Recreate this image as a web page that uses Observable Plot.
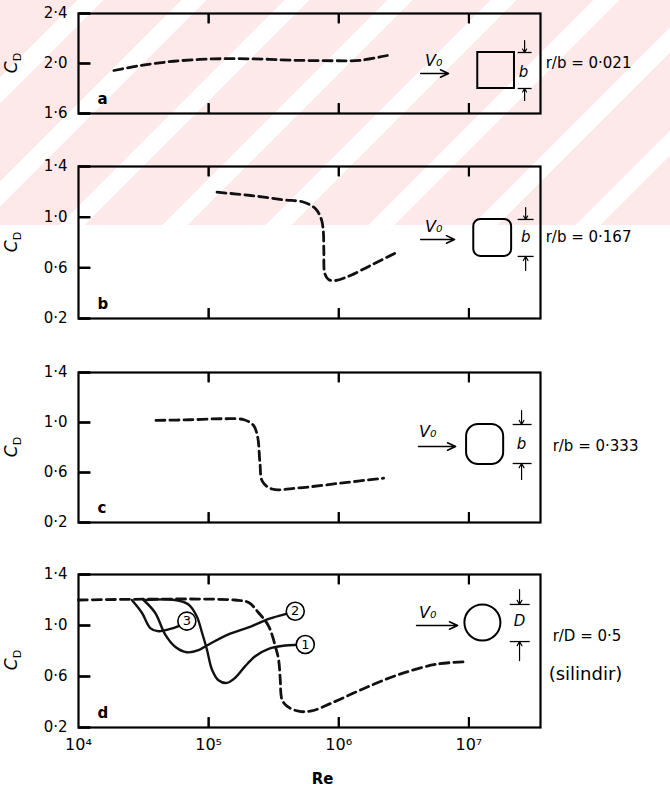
<!DOCTYPE html>
<html><head><meta charset="utf-8">
<script src="https://cdn.jsdelivr.net/npm/d3@7"></script>
<script src="https://cdn.jsdelivr.net/npm/@observablehq/plot@0.6"></script>
<style>
body{margin:0;background:#fff;font-family:"DejaVu Sans",sans-serif}
#wrap{position:relative;width:670px;height:791px;overflow:hidden;background:#fff}
#wm{position:absolute;left:0;top:0;width:670px;height:225px;
 background:repeating-linear-gradient(135deg,#fde8ea 0 55px,#ffffff 55px 73px)}
</style></head>
<body><div id="wrap"><div id="wm"></div></div>
<script>
// ---------- data (Re, C_D) ----------
const xDomain = [1e4, 3.55e7];
const xTicks = [1e5, 1e6, 1e7];
const xLabelTicks = [1e4, 1e5, 1e6, 1e7];
const yTicksA = [1.6, 2.0, 2.4];
const yTicksB = [0.2, 0.6, 1.0, 1.4];

const curveA = [[1.87e4,1.944],[3.0e4,1.984],[5.4e4,2.018],[1.1e5,2.037],[2.23e5,2.037],[4.5e5,2.026],[9.2e5,2.022],[1.47e6,2.026],[2.36e6,2.064]];
const curveB = [[1.16e5,1.197],[2.1e5,1.171],[3.78e5,1.137],[5.4e5,1.118],[6.63e5,1.066],[7.33e5,0.987],[7.6e5,0.895],[7.68e5,0.737],[7.82e5,0.553],[8.39e5,0.506],[9.45e5,0.5],[1.23e6,0.54],[1.86e6,0.632],[2.81e6,0.724]];
const curveC = [[3.94e4,1.017],[7.2e4,1.022],[1.32e5,1.03],[1.87e5,1.022],[2.21e5,0.978],[2.38e5,0.885],[2.48e5,0.674],[2.59e5,0.529],[3.07e5,0.468],[4.84e5,0.476],[1.03e6,0.515],[2.21e6,0.555]];
const curveDdash = [[1e4,1.2],[1.6e5,1.2],[2.03e5,1.18],[2.42e5,1.10],[2.89e5,0.995],[3.25e5,0.84],[3.45e5,0.73],[3.55e5,0.58],[3.66e5,0.42],[4.0e5,0.367],[4.9e5,0.328],[6.2e5,0.33],[8.9e5,0.394],[1.5e6,0.498],[2.9e6,0.616],[5.7e6,0.697],[9.2e6,0.715]];
const curveD1 = [[3.25e4,1.2],[5.5e4,1.2],[7e4,1.165],[8.1e4,1.073],[8.9e4,0.943],[9.7e4,0.812],[1.06e5,0.655],[1.19e5,0.571],[1.38e5,0.55],[1.6e5,0.59],[1.91e5,0.681],[2.28e5,0.759],[2.89e5,0.817],[3.88e5,0.843],[5.53e5,0.851]];
const curveD2 = [[3.16e4,1.2],[3.88e4,1.1],[4.63e4,0.93],[5.53e4,0.833],[6.8e4,0.79],[8.36e4,0.806],[9.7e4,0.843],[1.42e5,0.93],[2.15e5,0.995],[2.89e5,1.052],[3.77e5,1.086],[4.63e5,1.112]];
const curveD3 = [[2.57e4,1.2],[3.07e4,1.1],[3.56e4,0.98],[4.12e4,0.955],[4.92e4,0.969],[5.87e4,0.995],[6.8e4,1.034]];
const curveLabels = [{re:5.53e5, cd:0.851, n:"1"},{re:4.63e5, cd:1.112, n:"2"},{re:6.8e4, cd:1.034, n:"3"}];

const panelLetters = ["a","b","c","d"];
const ratioTexts = ["r/b = 0·021","r/b = 0·167","r/b = 0·333","r/D = 0·5"];
const cylinderText = "(silindir)";

// annotation positions in (Re, C_D)
const flowA = [{x1:4.26e6, x2:6.98e6, y:1.92, tx:5.36e6, ty:2.024}];
const flowB = [{x1:4.26e6, x2:7.76e6, y:0.824, tx:5.36e6, ty:0.926}];
const flowC = [{x1:4.1e6, x2:7.91e6, y:0.808, tx:4.82e6, ty:0.928}];
const flowD = [{x1:3.96e6, x2:8.19e6, y:1.0, tx:4.82e6, ty:1.102}];
const shapeA = [{x1:1.17e7, x2:2.24e7, y1:1.80, y2:2.088}];
const shapeB = [{x1:1.09e7, x2:2.13e7, y1:0.69, y2:0.982}];
const shapeC = [{x1:9.6e6, x2:1.85e7, y1:0.664, y2:0.984}];
const shapeD = [{x:1.27e7, y:1.024}];
const dimA = {x:2.68e7, bx1:2.37e7, bx2:3.03e7, top:2.088, topFrom:2.184, bot:1.80, botFrom:1.704, lx:2.63e7, ly:1.928, t:"b"};
const dimB = {x:2.73e7, bx1:2.37e7, bx2:3.14e7, top:0.982, topFrom:1.076, bot:0.69, botFrom:0.579, lx:2.73e7, ly:0.84, t:"b"};
const dimC = {x:2.54e7, bx1:2.17e7, bx2:3.03e7, top:0.984, topFrom:1.096, bot:0.672, botFrom:0.544, lx:2.54e7, ly:0.824, t:"b"};
const dimD = {x:2.45e7, bx1:2.06e7, bx2:2.93e7, top:1.165, topFrom:1.282, bot:0.874, botFrom:0.725, lx:2.45e7, ly:1.035, t:"D"};
const ratioPos = [{x:3.89e7, y:2.0},{x:3.89e7, y:0.84},{x:4.4e7, y:0.808},{x:4.4e7, y:0.914}];
const cylPos = [{x:4.1e7, y:0.616}];

// ---------- helpers ----------
const supMap = {4:"⁴",5:"⁵",6:"⁶",7:"⁷"};
const fmtY = d => d.toFixed(1).replace(".", "·");
const fmtX = d => "10" + supMap[Math.round(Math.log10(d))];
const dashStyle = {stroke:"#111", strokeWidth:2.8, strokeDasharray:"9,5", curve:"catmull-rom"};
const solidStyle = {stroke:"#111", strokeWidth:2.4, curve:"catmull-rom"};
const FRAME_W = 462, TICK_Y = 12, TICK_X = 10;

function axesMarks(yTicks, withLabels) {
  const marks = [
    Plot.axisY(yTicks, {anchor:"left", tickSize:0, tickPadding:11, tickFormat:fmtY, fontSize:15, label:null}),
    Plot.frame({stroke:"#000", strokeWidth:2.2})
  ];
  if (withLabels) marks.push(Plot.axisX(xLabelTicks, {anchor:"bottom", tickSize:0, tickPadding:11, tickFormat:fmtX, fontSize:16, label:null}));
  else marks.push(Plot.axisX([], {anchor:"bottom", tickSize:0, label:null}));
  return marks;
}
function tickMarks(yTicks, yDomain, frameH) {
  // inward tick marks; lengths expressed as fractions of the scale domains
  const xIn = xDomain[0] * Math.pow(xDomain[1] / xDomain[0], TICK_Y / FRAME_W);
  const dy = (yDomain[1] - yDomain[0]) * TICK_X / frameH;
  const yRows = yTicks.map(v => ({y: v, x1: xDomain[0], x2: xIn}));
  const xTop = xTicks.map(v => ({x: v, y1: yDomain[1], y2: yDomain[1] - dy}));
  const xBot = xTicks.map(v => ({x: v, y1: yDomain[0], y2: yDomain[0] + dy}));
  return [
    Plot.link(yRows, {x1:"x1", x2:"x2", y1:"y", y2:"y", stroke:"#000", strokeWidth:2.2}),
    Plot.link(xTop, {x1:"x", x2:"x", y1:"y1", y2:"y2", stroke:"#000", strokeWidth:2}),
    Plot.link(xBot, {x1:"x", x2:"x", y1:"y1", y2:"y2", stroke:"#000", strokeWidth:2}),
    // a second rendering path for the same ticks (plain vertical/horizontal rules)
    Plot.ruleY(yTicks, {y:d => d, insetRight:FRAME_W - TICK_Y, stroke:"#000", strokeWidth:2.2}),
    Plot.ruleX(xTicks, {x:d => d, insetBottom:frameH - TICK_X, stroke:"#000", strokeWidth:2}),
    Plot.ruleX(xTicks, {x:d => d, insetTop:frameH - TICK_X, stroke:"#000", strokeWidth:2})
  ];
}
function annotMarks(flow, dim, ratioIdx) {
  return [
    Plot.arrow(flow, {x1:"x1", x2:"x2", y1:"y", y2:"y", stroke:"#000", strokeWidth:1.5, headLength:9, headAngle:50}),
    Plot.text(flow, {x:"tx", y:"ty", text:() => "V₀", fontSize:16, fontStyle:"italic"}),
    Plot.arrow([dim], {x1:"x", x2:"x", y1:"topFrom", y2:"top", stroke:"#000", strokeWidth:1.2, headLength:6}),
    Plot.arrow([dim], {x1:"x", x2:"x", y1:"botFrom", y2:"bot", stroke:"#000", strokeWidth:1.2, headLength:6}),
    Plot.link([dim], {x1:"bx1", x2:"bx2", y1:"top", y2:"top", stroke:"#000", strokeWidth:1.3}),
    Plot.link([dim], {x1:"bx1", x2:"bx2", y1:"bot", y2:"bot", stroke:"#000", strokeWidth:1.3}),
    Plot.text([dim], {x:"lx", y:"ly", text:"t", fontSize:15, fontStyle:"italic"}),
    Plot.text([ratioPos[ratioIdx]], {x:"x", y:"y", text:() => ratioTexts[ratioIdx], textAnchor:"start", fontSize:15})
  ];
}
function letterMark(i) {
  return Plot.text([panelLetters[i]], {frameAnchor:"bottom-left", dx:19, dy:-10, fontSize:15, fontWeight:"bold"});
}

function make(opts) {
  const {top, height, marginBottom, yDomain, marks, cdY} = opts;
  const p = Plot.plot({
    width:670, height, marginLeft:78, marginRight:130, marginTop:13, marginBottom,
    style:{background:"transparent", fontFamily:"DejaVu Sans", fontSize:"14px", color:"#000", overflow:"visible"},
    x:{type:"log", domain:xDomain, label:null},
    y:{domain:yDomain, label:null},
    marks
  });
  p.style.position = "absolute"; p.style.left = "0px"; p.style.top = top + "px";
  const t = d3.select(p).append("text")
    .attr("transform", `translate(17,${cdY}) rotate(-90)`)
    .attr("text-anchor","middle").attr("font-size",17).attr("fill","#000");
  t.append("tspan").text("C").attr("font-style","italic");
  t.append("tspan").text("D").attr("font-size",11).attr("dy",4);
  document.getElementById("wrap").appendChild(p);
}

// Panel a
make({top:0, height:129, marginBottom:16, yDomain:[1.6,2.4], cdY:63, marks:[
  ...axesMarks(yTicksA, false),
  Plot.line(curveA, {x:d=>d[0], y:d=>d[1], ...dashStyle}),
  Plot.rect(shapeA, {x1:"x1", x2:"x2", y1:"y1", y2:"y2", fill:"none", stroke:"#000", strokeWidth:2}),
  ...annotMarks(flowA, dimA, 0),
  letterMark(0),
  ...tickMarks(yTicksA, [1.6,2.4], 100)
]});
// Panel b
make({top:153, height:181, marginBottom:16, yDomain:[0.2,1.4], cdY:89, marks:[
  ...axesMarks(yTicksB, false),
  Plot.line(curveB, {x:d=>d[0], y:d=>d[1], ...dashStyle}),
  Plot.rect(shapeB, {x1:"x1", x2:"x2", y1:"y1", y2:"y2", fill:"none", stroke:"#000", strokeWidth:2, rx:7}),
  ...annotMarks(flowB, dimB, 1),
  letterMark(1),
  ...tickMarks(yTicksB, [0.2,1.4], 152)
]});
// Panel c
make({top:359, height:179, marginBottom:16, yDomain:[0.2,1.4], cdY:88, marks:[
  ...axesMarks(yTicksB, false),
  Plot.line(curveC, {x:d=>d[0], y:d=>d[1], ...dashStyle}),
  Plot.rect(shapeC, {x1:"x1", x2:"x2", y1:"y1", y2:"y2", fill:"none", stroke:"#000", strokeWidth:2, rx:12}),
  ...annotMarks(flowC, dimC, 2),
  letterMark(2),
  ...tickMarks(yTicksB, [0.2,1.4], 150)
]});
// Panel d
make({top:561, height:230, marginBottom:64, yDomain:[0.2,1.4], cdY:99, marks:[
  ...axesMarks(yTicksB, true),
  Plot.line(curveDdash, {x:d=>d[0], y:d=>d[1], ...dashStyle}),
  Plot.line(curveD1, {x:d=>d[0], y:d=>d[1], ...solidStyle}),
  Plot.line(curveD2, {x:d=>d[0], y:d=>d[1], ...solidStyle}),
  Plot.line(curveD3, {x:d=>d[0], y:d=>d[1], ...solidStyle}),
  Plot.dot(curveLabels, {x:"re", y:"cd", r:9, fill:"#fff", stroke:"#000", strokeWidth:1.6}),
  Plot.text(curveLabels, {x:"re", y:"cd", text:"n", fontSize:13}),
  Plot.dot(shapeD, {x:"x", y:"y", r:18, stroke:"#000", strokeWidth:2, fill:"none"}),
  ...annotMarks(flowD, dimD, 3),
  Plot.text(cylPos, {x:"x", y:"y", text:() => cylinderText, textAnchor:"start", fontSize:18}),
  Plot.text(["Re"], {frameAnchor:"bottom", dx:13, dy:52, lineAnchor:"middle", fontSize:15, fontWeight:"bold"}),
  letterMark(3),
  ...tickMarks(yTicksB, [0.2,1.4], 153)
]});
</script>
</body></html>
